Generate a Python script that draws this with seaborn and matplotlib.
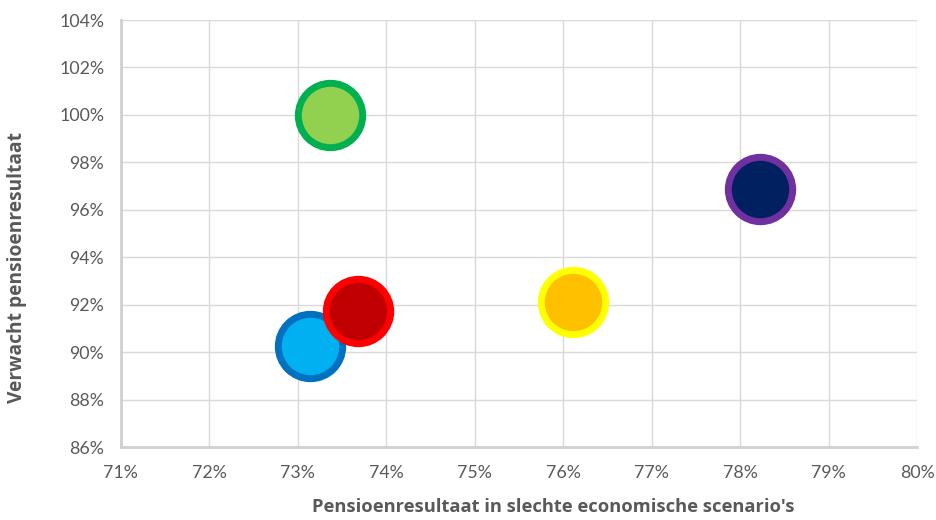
import matplotlib
matplotlib.use("Agg")
from matplotlib import pyplot as plt
from matplotlib.ticker import PercentFormatter, MultipleLocator
import pandas as pd
import seaborn as sns

# bubbles (fractions); blue drawn before red so red sits on top
x_slecht = [0.7336, 0.7822, 0.7611, 0.7314, 0.7368]
y_verwacht = [1.000, 0.969, 0.921, 0.9026, 0.9176]
namen = ["groen", "paars", "geel", "blauw", "rood"]
vulkleur = ["#92D050", "#002060", "#FFC000", "#00B0F0", "#C00000"]
randkleur = ["#00B050", "#7030A0", "#FFFF00", "#0070C0", "#FF0000"]

df = pd.DataFrame({"x": x_slecht, "y": y_verwacht, "naam": namen})

sns.set_style("white")
plt.rcParams["font.family"] = ["Lato", "DejaVu Sans"]

fig = plt.figure(figsize=(9.37, 5.2), dpi=100)
ax = fig.add_axes([0.129, 0.140, 0.850, 0.8215])

for i, row in df.iterrows():
    sns.scatterplot(x=[row["x"]], y=[row["y"]], ax=ax, s=2150,
                    color=vulkleur[i], edgecolor=randkleur[i],
                    linewidth=5, legend=False, zorder=3)

ax.set_xlim(0.71, 0.80)
ax.set_ylim(0.86, 1.04)
ax.xaxis.set_major_locator(MultipleLocator(0.01))
ax.yaxis.set_major_locator(MultipleLocator(0.02))
ax.xaxis.set_major_formatter(PercentFormatter(1.0, decimals=0))
ax.yaxis.set_major_formatter(PercentFormatter(1.0, decimals=0))

ax.grid(True, color="#D9D9D9", linewidth=1.0, zorder=0)
ax.set_axisbelow(True)
for side in ["top", "right"]:
    ax.spines[side].set_visible(False)
for side in ["left", "bottom"]:
    ax.spines[side].set_color("#D0D0D0")
    ax.spines[side].set_linewidth(2.0)

ax.tick_params(axis="both", length=0, labelsize=12.8, labelcolor="#595959")
ax.tick_params(axis="x", pad=13)
ax.tick_params(axis="y", pad=12)

lab = dict(fontweight="bold", color="#595959",
           family=["Open Sans", "DejaVu Sans"])
ax.set_xlabel("Pensioenresultaat in slechte economische scenario's",
              fontsize=13.2, **lab)
ax.set_ylabel("Verwacht pensioenresultaat", fontsize=13.8, **lab)
ax.xaxis.set_label_coords(0.543, -0.118)
ax.yaxis.set_label_coords(-0.118, 0.42)

plt.savefig("out.png", dpi=100)
